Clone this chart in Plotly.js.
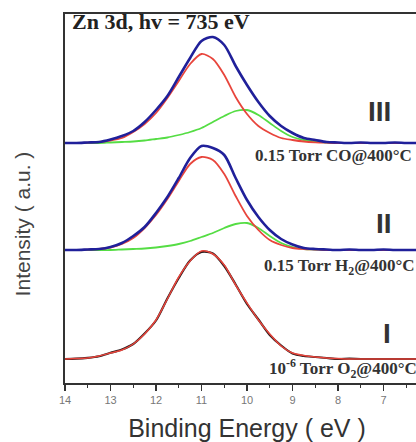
<!DOCTYPE html>
<html>
<head>
<meta charset="utf-8">
<script src="https://cdn.plot.ly/plotly-3.0.1.min.js"></script>
<style>
html, body { margin: 0; padding: 0; overflow: hidden; background: #fff; }
#chart { width: 430px; height: 442px; }
</style>
</head>
<body>
<div id="chart"></div>
<script>
// Binding energy grid (eV)
const energy = [14, 13.75, 13.5, 13.25, 13, 12.75, 12.5, 12.25, 12, 11.75, 11.5, 11.25, 11, 10.75, 10.5, 10.25, 10,
                9.75, 9.5, 9.25, 9, 8.75, 8.5, 8.25, 8, 7.75, 7.5, 7.25, 7, 6.75, 6.5, 6.25, 6];

// Vertical stacking offsets of the three spectra (a.u.)
const offsetI = 24, offsetII = 133, offsetIII = 240;

// Spectrum III: 0.15 Torr CO @ 400 °C
const III_data  = [0, 0, 0.5, 1, 3.5, 7, 12, 21, 33, 47, 66, 85, 102, 106, 98, 77, 58, 41, 27, 17, 10, 5, 3, 1, 0.5, 0, 0.5, 0, 0, 0.5, 0, 0, 0];
const III_peak1 = [0, 0, 0.3, 1, 2.5, 5, 11, 19, 30, 45, 62, 79, 89, 84, 68, 46, 29, 17, 10, 5, 3, 1.5, 0.7, 0.3, 0, 0, 0, 0, 0, 0, 0, 0, 0];
const III_peak2 = [0, 0, 0, 0, 0.5, 1, 1.5, 2.5, 4, 5.5, 8, 11, 15, 21, 27, 32, 33, 28, 20, 12, 6, 3, 1.5, 0.5, 0, 0, 0, 0, 0, 0, 0, 0, 0];

// Spectrum II: 0.15 Torr H2 @ 400 °C
const II_data  = [0, 0, 0.5, 1, 3, 7, 14, 23, 37, 53, 72, 92, 104, 102, 95, 72, 50, 33, 20, 11, 5.5, 2, 1, 0.5, 0, 0.5, 0, 0, 0.5, 0, 0, 0, 0];
const II_peak1 = [0, 0, 0.3, 1, 2.5, 6, 12, 22, 35, 51, 69, 86, 93, 90, 76, 54, 34, 20, 10, 5, 2, 1, 0.5, 0, 0, 0, 0, 0, 0, 0, 0, 0, 0];
const II_peak2 = [0, 0, 0, 0, 0, 0.5, 1, 1.5, 2.5, 4, 6, 9, 13, 17, 22, 26, 27, 22, 14, 7, 3, 1, 0.5, 0, 0, 0, 0, 0, 0, 0, 0, 0, 0];

// Spectrum I: 1e-6 Torr O2 @ 400 °C
const I_data  = [0, 0.3, 1.2, 2.8, 6.2, 9.5, 15, 25.5, 38.5, 60.5, 81, 98.5, 107, 105.5, 93, 74.5, 55, 39.5, 24, 13.5, 5.5, 3, 2, 1, 0, 0.3, 0, 0, 0, 0, 0, 0, 0];
const I_peak1 = [0, 0.5, 1, 3, 6, 9, 15, 25, 39, 60, 82, 98, 108, 105, 94, 74, 56, 39, 25, 13, 6, 3.5, 2, 1, 0.5, 0, 0, 0, 0, 0, 0, 0, 0];

const blue = '#20209a', red = '#e8453c', green = '#55dd44', black = '#2a1a1a';

function shifted(arr, off) { return arr.map(v => v + off); }
function tr(arr, off, color, width) {
  return { x: energy, y: shifted(arr, off), type: 'scatter', mode: 'lines',
           line: { color: color, width: width, shape: 'spline', smoothing: 0.8 }, hoverinfo: 'skip' };
}

const traces = [
  tr(III_peak2, offsetIII, green, 1.8),
  tr(III_peak1, offsetIII, red, 1.8),
  tr(III_data, offsetIII, blue, 2.6),
  tr(II_peak2, offsetII, green, 1.8),
  tr(II_peak1, offsetII, red, 1.8),
  tr(II_data, offsetII, blue, 2.6),
  tr(I_data, offsetI, black, 2.2),
  tr(I_peak1, offsetI, red, 1.5)
];

const serif = 'Liberation Serif, Times New Roman, serif';
const sans = 'Liberation Sans, Arial, sans-serif';

const layout = {
  width: 430, height: 442,
  margin: { l: 65, r: 1, t: 14, b: 59 },
  paper_bgcolor: '#fff', plot_bgcolor: '#fff',
  showlegend: false,
  xaxis: {
    range: [14, 6], autorange: false,
    tickmode: 'linear', tick0: 6, dtick: 1,
    ticks: 'outside', ticklen: 6, tickwidth: 1.5, tickcolor: '#333',
    minor: { ticks: 'outside', ticklen: 3, tickwidth: 1.2, dtick: 0.5, tickcolor: '#333' },
    showline: true, linecolor: '#333', linewidth: 2, mirror: true,
    showgrid: false, zeroline: false,
    tickfont: { family: sans, size: 11, color: '#777' },
    title: { text: 'Binding Energy ( eV )', font: { family: sans, size: 25, color: '#333' }, standoff: 14 }
  },
  yaxis: {
    range: [0, 369], autorange: false,
    showticklabels: false, ticks: '',
    showline: true, linecolor: '#333', linewidth: 2, mirror: true,
    showgrid: false, zeroline: false
  },
  annotations: [
    { x: -0.118, y: 0.43, xref: 'paper', yref: 'paper', xanchor: 'center', yanchor: 'middle', showarrow: false,
      textangle: -90, text: 'Intensity ( a.u. )', font: { family: sans, size: 21, color: '#444' } },
    { x: 13.88, y: 362, xref: 'x', yref: 'y', xanchor: 'left', yanchor: 'middle', showarrow: false,
      text: '<b>Zn 3d, hv = 735 eV</b>', font: { family: serif, size: 22, color: '#222' } },
    { x: 7.08, y: 272, xref: 'x', yref: 'y', xanchor: 'center', yanchor: 'middle', showarrow: false,
      text: '<b>III</b>', font: { family: sans, size: 28, color: '#333' } },
    { x: 6.99, y: 160, xref: 'x', yref: 'y', xanchor: 'center', yanchor: 'middle', showarrow: false,
      text: '<b>II</b>', font: { family: sans, size: 28, color: '#333' } },
    { x: 6.92, y: 50, xref: 'x', yref: 'y', xanchor: 'center', yanchor: 'middle', showarrow: false,
      text: '<b>I</b>', font: { family: sans, size: 28, color: '#333' } },
    { x: 9.87, y: 228, xref: 'x', yref: 'y', xanchor: 'left', yanchor: 'middle', showarrow: false,
      text: '<b>0.15 Torr CO@400°C</b>', font: { family: serif, size: 17, color: '#333' } },
    { x: 9.67, y: 116, xref: 'x', yref: 'y', xanchor: 'left', yanchor: 'middle', showarrow: false,
      text: '<b>0.15 Torr H<sub>2</sub>@400°C</b>', font: { family: serif, size: 17, color: '#333' } },
    { x: 9.56, y: 15, xref: 'x', yref: 'y', xanchor: 'left', yanchor: 'middle', showarrow: false,
      text: '<b>10<sup>-6</sup> Torr O<sub>2</sub>@400°C</b>', font: { family: serif, size: 17, color: '#333' } }
  ]
};

Plotly.newPlot('chart', traces, layout, { staticPlot: true, displayModeBar: false });
</script>
</body>
</html>
